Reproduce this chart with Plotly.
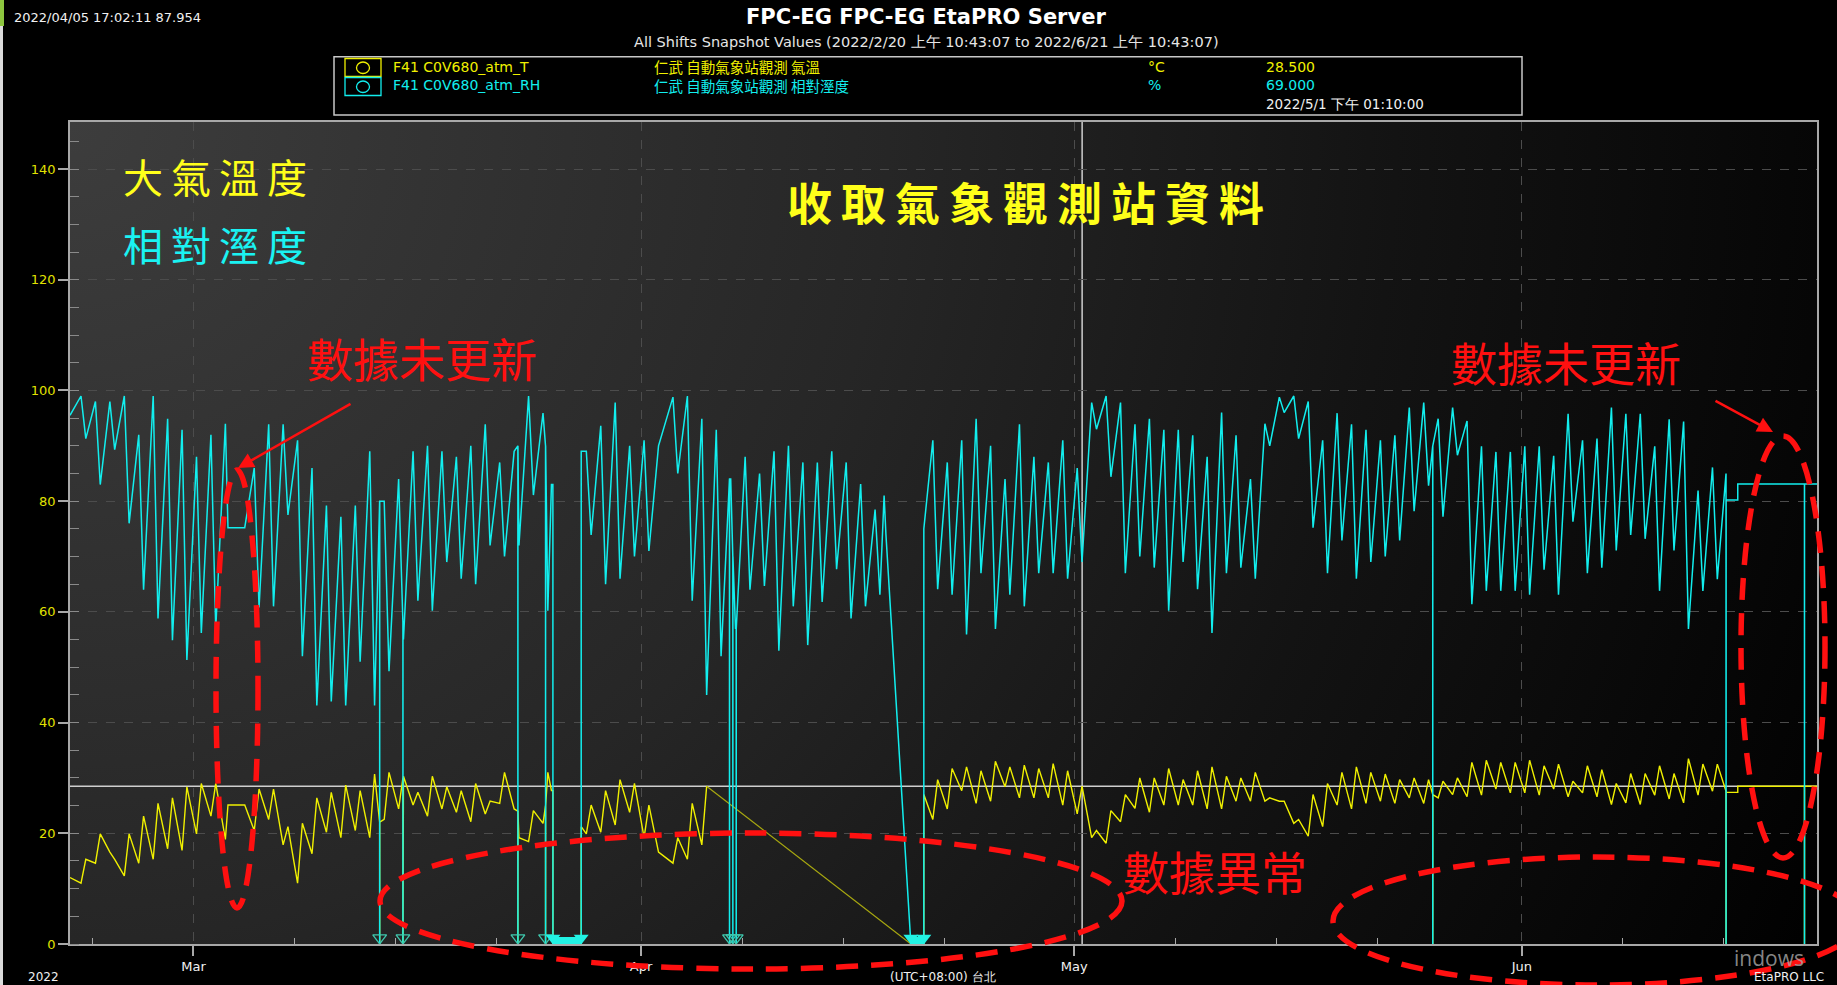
import base64
import pandas as pd
import plotly.graph_objects as go

# ---------------------------------------------------------------- data
START = "2022-02-20 10:43:07"
END = "2022-06-21 10:43:07"
FIRST_DAY = "2022-02-21"          # first full day of daily samples
HOUR_NIGHT, HOUR_NOON = 5, 13      # sample hours: RH max / T min, RH min / T max

# relative humidity (%): early-morning high, early-afternoon low, one pair per day
RH_MAX = [99, 98, 98, 99, 92, 99, 94.9, 92.9, 88, 92,
          94, 75.2, 86, 93.9, 93.9, 91, 86, 79.2, 77.2, 79.2,
          89, 80, 84, 89, 90, 89, 88, 90, 93.9, 87,
          89, 99, 95.9, None, None, 89, 93.6, 97.8, 90, 91,
          90, 98.8, 99, 94.9, 92.9, 84, 88, 85, 89, 90,
          87, 87, 89, 87, 83.1, 78.5, None, None, None, 91,
          87, 91, 94.9, 90, 84, 93.9, 88, 87, 91, 86,
          97.8, 99, 97.8, 93.9, 94.9, 92.9, 92.9, 91.9, 88, 96,
          91.9, 84, 94, 98.8, 99, 98, 91, 95.9, 93.9, 92.9,
          91, 91.9, 96.9, 97.8, 94.9, 96.9, 94.5, 89.9, 88.9, 88.9,
          89.9, 89.9, 88.2, 95.8, 91, 91.3, 96.9, 95.8, 95.8, 89.9,
          94.8, 94.4, 81.9, 86.1]
RH_MIN = [91.3, 83, 89.3, 76, 64, 58.8, 54.9, 51.3, 56.2, 56.9,
          75.2, 54.9, 60.8, 61, 77.5, 52, 43.1, 43.8, 43.1, 51,
          43.1, 49.3, 55, 62, 60.2, 69, 66, 65, 72, 70,
          72, 81.1, 60.2, None, None, 73.9, 65, 66, 70, 71,
          93, 85, 62, 45, 52, 56.9, 64, 64.7, 53, 61,
          54, 61.8, 67.7, 58.8, 61, 63.1, None, None, None, 64.1,
          63.1, 55.9, 67, 56.9, 63.1, 61, 67, 67, 66, 69,
          93, 84.4, 67, 70, 68, 60.2, 69, 64.1, 56.2, 67,
          68, 66, 90, 96, 91.3, 75.2, 67, 72.9, 66, 69,
          70, 72.9, 78.2, 82.8, 77.2, 88.3, 61.4, 63.8, 63.8, 63.8,
          63.1, 67.6, 63.1, 76.3, 67, 68, 71.1, 73.9, 73.2, 63.8,
          71.1, 56.9, 63.8, 65.9]

# air temperature (°C): early-morning low, early-afternoon high
T_MIN = [11, 14.6, 16.6, 12.3, 14.6, 15.3, 17.2, 16.9, 19.9, 23.1,
         18.9, 25.1, 20.5, 22.5, 17.9, 11, 16.3, 20.2, 19.2, 20.5,
         19.2, 22.5, 24.4, 25.1, 23.1, 24.4, 23.8, 22.1, 23.5, 25.4,
         24.4, 18.5, 21.8, None, None, 19.9, 20.2, 21.5, 23.8, 19.2,
         16.6, 14.6, 15.3, 17.9, None, None, None, None, None, None,
         None, None, None, None, None, None, None, None, None, 22.5,
         24.4, 27.7, 25.4, 25.8, 28.4, 26.4, 26.4, 26.4, 25.1, 23.5,
         19.2, 18.2, 22.1, 24.5, 23.8, 25.1, 25.1, 25.1, 24.4, 24.4,
         25.8, 25.8, 25.8, 25.8, 21.8, 19.5, 21.2, 25.1, 24.4, 25.4,
         25.8, 25.4, 26.4, 25.4, 26.4, 27, 26.6, 26.9, 28, 27.3,
         27.3, 26.9, 28, 26.6, 27.3, 26.6, 25.2, 25.5, 25.2, 26.9,
         26.2, 25.5, 26.9, 27.6]
T_MAX = [15.3, 19.9, 15.3, 19.9, 23.1, 25.4, 26.4, 28.4, 29, 29,
         25.1, 29.4, 28, 28, 21.2, 21.8, 26.4, 27.4, 28.7, 27.7,
         30.7, 31, 30.3, 27.4, 30.3, 28.4, 27.7, 29, 25.8, 31,
         19.2, 24.1, 31, None, None, 25.1, 27.7, 29.7, 29, 25.1,
         15.9, 19.2, 25.4, 28.5, None, None, None, None, None, None,
         None, None, None, None, None, None, None, None, None, 29.7,
         31.7, 32, 31.3, 33, 32, 32.3, 31.7, 32.6, 31.3, 28.5,
         20.5, 24.1, 27, 30, 30, 31.7, 29.7, 31.3, 32, 30.3,
         30, 31, 26.4, 25.8, 22.5, 27, 29, 31, 32, 31,
         30.7, 29.7, 30, 29.7, 29.4, 30, 32.8, 33.2, 32.8, 32.8,
         33.2, 32.2, 32.5, 29.4, 32.2, 31.5, 29, 30.8, 30.8, 32.2,
         30.8, 33.5, 32.5, 32.5]

RH_FIRST, T_FIRST = 95.5, 12.0

# value frozen (not updated) on Mar 3-4
FROZEN = ("2022-03-03 09:20", "2022-03-04 13:10")
FROZEN_RH, FROZEN_T = 75.2, 25.1

# isolated bad samples that read 0: time, RH level around it, T level around it
SPIKES = [
    ("2022-03-13 21:30", 80, 22),
    ("2022-03-15 12:10", 58, 30),
    ("2022-03-23 11:15", 90, 24),
    ("2022-03-25 09:15", 90, 25),
    ("2022-04-07 03:00", 84, None),
    ("2022-04-07 08:35", 70, None),
    ("2022-04-07 14:10", 57, None),
    ("2022-05-25 20:00", 90, 27),
    ("2022-06-20 13:55", 83.1, 28.5),
]
FLAGGED = ["2022-03-13 21:30", "2022-03-15 12:10", "2022-03-23 11:15",
           "2022-03-25 09:15", "2022-04-07 03:00", "2022-04-07 08:35",
           "2022-04-07 14:10"]

# runs of zero readings
ZERO_RUNS = [("2022-03-25 21:30", "2022-03-27 20:30"),
             ("2022-04-19 16:30", "2022-04-20 14:00")]

# hand-read samples around the outages
RH_EXTRA = [("2022-03-25 13:00", 60.2), ("2022-03-25 19:00", 83), ("2022-03-25 21:25", 83),
            ("2022-03-27 20:31", 89),
            ("2022-04-17 20:00", 81), ("2022-04-17 23:00", 74),
            ("2022-04-20 14:01", 75)]
T_EXTRA = [("2022-03-25 13:00", 31), ("2022-03-25 19:00", 27.7), ("2022-03-25 21:25", 27.7),
           ("2022-03-27 20:31", 21.2),
           ("2022-04-20 14:01", 27)]

# remote station stopped updating on Jun 15
RH_TAIL = [("2022-06-15 03:30", 85), ("2022-06-15 03:35", 0), ("2022-06-15 03:40", 80.2),
           ("2022-06-15 23:00", 80.2), ("2022-06-15 23:01", 83.1), (END, 83.1)]
T_TAIL = [("2022-06-15 03:30", 27.6), ("2022-06-15 03:35", 0), ("2022-06-15 03:40", 27.4),
          ("2022-06-15 23:00", 27.4), ("2022-06-15 23:01", 28.5), (END, 28.5)]

RH_DROP = [("2022-03-03 09:00", "2022-03-04 13:30"),
           ("2022-03-25 06:00", "2022-03-27 21:00"),
           ("2022-04-17 19:00", "2022-04-20 14:30")]
T_DROP = [("2022-03-03 09:00", "2022-03-04 13:30"),
          ("2022-03-25 06:00", "2022-03-27 21:00"),
          ("2022-04-05 15:00", "2022-04-20 14:30")]
T_SILENT = ("2022-04-05 14:00", "2022-04-19 16:30")   # no temperature samples

CURSOR_TIME = "2022-05-01 13:10:00"
CURSOR_T, CURSOR_RH = 28.5, 69.0

X_MINOR = ["2022-02-22", "2022-03-08", "2022-03-15", "2022-03-22",
           "2022-04-08", "2022-04-15", "2022-04-22", "2022-05-08",
           "2022-05-15", "2022-05-22", "2022-06-08", "2022-06-15"]


# ---------------------------------------------------------------- series
def ts(s):
    return pd.Timestamp(s)


def build(night, noon, first, frozen_val, extra, tail, drops, spike_idx):
    days = pd.date_range(FIRST_DAY, periods=len(night), freq="D")
    pts = [(ts(START), first)]
    for d, a, b in zip(days, night, noon):
        if a is not None:
            pts.append((d + pd.Timedelta(hours=HOUR_NIGHT), a))
        if b is not None:
            pts.append((d + pd.Timedelta(hours=HOUR_NOON), b))
    pts = [p for p in pts if not any(ts(a) <= p[0] <= ts(b) for a, b in drops)]
    pts += [(ts(FROZEN[0]), frozen_val), (ts(FROZEN[1]), frozen_val)]
    for t0, t1 in ZERO_RUNS:
        pts += [(ts(t0), 0), (ts(t1), 0)]
    pts += [(ts(t), v) for t, v in extra + tail]
    for sp in SPIKES:
        lvl = sp[spike_idx]
        if lvl is None:
            continue
        t = ts(sp[0])
        pts += [(t - pd.Timedelta(minutes=4), lvl), (t, 0), (t + pd.Timedelta(minutes=4), lvl)]
    pts.sort(key=lambda p: p[0])
    return pts


rh = build(RH_MAX, RH_MIN, RH_FIRST, FROZEN_RH, RH_EXTRA, RH_TAIL, RH_DROP, 1)
tt = build(T_MIN, T_MAX, T_FIRST, FROZEN_T, T_EXTRA, T_TAIL, T_DROP, 2)

# split temperature at the silent period; the gap is bridged by a thin connector
g0, g1 = ts(T_SILENT[0]), ts(T_SILENT[1])
t_x, t_y = [], []
for i, (t, v) in enumerate(tt):
    t_x.append(t)
    t_y.append(v)
    if t <= g0 and i + 1 < len(tt) and tt[i + 1][0] >= g1:
        t_x.append(t + pd.Timedelta(hours=1))
        t_y.append(None)
        bridge = [tt[i], tt[i + 1]]

# ---------------------------------------------------------------- layout geometry
W, H = 1837, 985
ML, MR, MT, MB = 70, 20, 122, 41
PW, PH = W - ML - MR, H - MT - MB


def fx(px):
    return (px - ML) / PW


def fy(py):
    return (H - MB - py) / PH


YEL = "#f0f000"
CYA = "#12eeee"
RED = "#ff1010"
GRID = "#4c4c4c"
AXIS = "#a8a8a8"
LAT = "DejaVu Sans"
CJK = "Noto Sans CJK TC"

fig = go.Figure()

fig.add_trace(go.Scatter(x=[p[0] for p in bridge], y=[p[1] for p in bridge], mode="lines",
                         line=dict(color="#a8a810", width=1.2), hoverinfo="skip"))
fig.add_trace(go.Scatter(x=t_x, y=t_y, mode="lines", connectgaps=False,
                         line=dict(color=YEL, width=1.4), name="F41 C0V680_atm_T"))
fig.add_trace(go.Scatter(x=[p[0] for p in rh], y=[p[1] for p in rh], mode="lines",
                         line=dict(color=CYA, width=1.5), name="F41 C0V680_atm_RH"))

# quality flags at the bottom of the scale
MARK_Y = 1.1
fig.add_trace(go.Scatter(x=[ts(t) for t in FLAGGED], y=[MARK_Y] * len(FLAGGED), mode="markers",
                         marker=dict(symbol="triangle-down-open", size=12, color="#3fc7ad",
                                     line=dict(width=1.3, color="#3fc7ad")),
                         hoverinfo="skip", cliponaxis=False))
run_ends = [ts(t) for run in ZERO_RUNS for t in run]
fig.add_trace(go.Scatter(x=run_ends, y=[MARK_Y] * len(run_ends), mode="markers",
                         marker=dict(symbol="triangle-down", size=13, color="#22f2e4"),
                         hoverinfo="skip", cliponaxis=False))

shapes = []
for t0, t1 in ZERO_RUNS:
    shapes.append(dict(type="rect", xref="x", yref="paper", x0=t0, x1=t1, y0=0, y1=7 / PH,
                       fillcolor="#22f2e4", line=dict(width=0), layer="above"))

# cursor lines
shapes.append(dict(type="line", xref="paper", yref="y", x0=0, x1=1, y0=CURSOR_T, y1=CURSOR_T,
                   line=dict(color="#cfcfcf", width=1.5), layer="between"))
shapes.append(dict(type="line", xref="x", yref="paper", x0=CURSOR_TIME, x1=CURSOR_TIME, y0=0, y1=1,
                   line=dict(color="#cfcfcf", width=1.5), layer="between"))

# legend frame and swatches
shapes.append(dict(type="rect", xref="paper", yref="paper", x0=fx(334), x1=fx(1522),
                   y0=fy(115), y1=fy(56.7), line=dict(color="#c8c8c8", width=1.5)))
for top, col in ((58.5, YEL), (77.5, CYA)):
    shapes.append(dict(type="rect", xref="paper", yref="paper", x0=fx(345), x1=fx(381),
                       y0=fy(top + 18), y1=fy(top), line=dict(color=col, width=1.3)))
    shapes.append(dict(type="circle", xref="paper", yref="paper", x0=fx(356.5), x1=fx(369.5),
                       y0=fy(top + 15), y1=fy(top + 3.5), line=dict(color=col, width=1.3)))

# red hand-drawn highlights
DASH = "22px,13px"
for cx, cy, rx, ry in ((237, 689, 21, 219), (751, 901, 371, 68),
                       (1596, 921, 263, 64), (1783, 647, 42, 211)):
    shapes.append(dict(type="circle", xref="paper", yref="paper",
                       x0=fx(cx - rx), x1=fx(cx + rx), y0=fy(cy + ry), y1=fy(cy - ry),
                       line=dict(color=RED, width=5.5, dash=DASH), layer="above"))

# left margin strip of the screen capture
shapes.append(dict(type="rect", xref="paper", yref="paper", x0=fx(0), x1=fx(3),
                   y0=fy(H), y1=fy(0), fillcolor="#dcdcdc", line=dict(width=0)))
shapes.append(dict(type="rect", xref="paper", yref="paper", x0=fx(0), x1=fx(4),
                   y0=fy(26), y1=fy(0), fillcolor="#8dc63f", line=dict(width=0)))

ann = []


def text(s, px, py, size, color, family=LAT, xanchor="left", yanchor="middle", weight="normal"):
    ann.append(dict(text=s, x=fx(px), y=fy(py), xref="paper", yref="paper", showarrow=False,
                    xanchor=xanchor, yanchor=yanchor, align="left",
                    font=dict(family=family, size=size, color=color, weight=weight)))


def two_rows(a, b, ca, cb):
    return f"<span style='color:{ca}'>{a}</span><br><span style='color:{cb}'>{b}</span>"


text("2022/04/05 17:02:11 87.954", 12, 17, 13, "#f0f0f0")
text("FPC-EG FPC-EG EtaPRO Server", 926, 17.5, 21, "#ffffff", xanchor="center", weight="bold")
text("All Shifts Snapshot Values (2022/2/20 上午 10:43:07 to 2022/6/21 上午 10:43:07)",
     926, 42, 14.5, "#e6e6e6", xanchor="center")

# legend rows (each column is one two-line block)
text(two_rows("F41 C0V680_atm_T", "F41 C0V680_atm_RH", YEL, CYA), 391, 76.5, 14, YEL)
text(two_rows("仁武 自動氣象站觀測 氣溫", "仁武 自動氣象站觀測 相對溼度", YEL, CYA),
     652, 76.5, 14.5, YEL, family=CJK)
text(two_rows("°C", "%", YEL, CYA), 1146, 76.5, 14, YEL)
text(two_rows(f"{CURSOR_T:.3f}", f"{CURSOR_RH:.3f}", YEL, CYA), 1264, 76.5, 14, YEL)
text("2022/5/1 下午 01:10:00", 1264, 104.5, 13.5, "#f0f0f0")

text("大\u2009氣\u2009溫\u2009度", 215, 176, 40, "#ffff1a", family=CJK, xanchor="center")
text("相\u2009對\u2009溼\u2009度", 215, 244, 40, "#1af2f2", family=CJK, xanchor="center")
text("收\u2009取\u2009氣\u2009象\u2009觀\u2009測\u2009站\u2009資\u2009料", 1025, 201, 45, "#ffff1a",
     family=CJK, xanchor="center", weight="bold")
text("數據未更新", 422, 357, 46, RED, family=CJK, xanchor="center")
text("數據未更新", 1566, 361, 46, RED, family=CJK, xanchor="center")
text("數據異常", 1215, 870, 46, RED, family=CJK, xanchor="center")

text("2022", 26, 968, 12, "#f0f0f0", yanchor="top")
text("(UTC+08:00) 台北", 943, 968, 12, "#f0f0f0", xanchor="center", yanchor="top")
text("indows", 1732, 958, 21, "rgba(170,170,170,0.8)", family="Open Sans")
text("EtaPRO LLC", 1752, 968, 12, "#f0f0f0", yanchor="top")

for tip, tail in (((238, 468), (352, 403)), ((1773, 432), (1714, 400))):
    ann.append(dict(x=fx(tip[0]), y=fy(tip[1]), xref="paper", yref="paper", text="",
                    showarrow=True, arrowhead=2, arrowsize=1.25, arrowwidth=2.5, arrowcolor=RED,
                    ax=tail[0] - tip[0], ay=tail[1] - tip[1], standoff=0, startstandoff=0))

# dark radial wash behind the traces
svg = ('<svg xmlns="http://www.w3.org/2000/svg" width="%d" height="%d">'
       '<defs><radialGradient id="g" gradientUnits="userSpaceOnUse" cx="0" cy="0" r="1950">'
       '<stop offset="0" stop-color="#3d3d3d"/><stop offset="0.42" stop-color="#262626"/>'
       '<stop offset="0.68" stop-color="#131313"/><stop offset="1" stop-color="#000000"/>'
       '</radialGradient></defs><rect width="100%%" height="100%%" fill="url(#g)"/></svg>') % (PW, PH)
bg = "data:image/svg+xml;base64," + base64.b64encode(svg.encode()).decode()

fig.update_layout(
    width=W, height=H,
    margin=dict(l=ML, r=MR, t=MT, b=MB, pad=0),
    paper_bgcolor="#000000", plot_bgcolor="#000000",
    showlegend=False,
    shapes=shapes, annotations=ann,
    images=[dict(source=bg, xref="paper", yref="paper", x=0, y=1, sizex=1, sizey=1,
                 xanchor="left", yanchor="top", sizing="stretch", layer="below")],
    xaxis=dict(
        range=[START, END], type="date",
        tickmode="linear", tick0="2022-03-01", dtick="M1", tickformat="%b",
        ticks="outside", ticklen=10, tickwidth=1.5, tickcolor=AXIS,
        tickfont=dict(family=LAT, size=13, color="#f2f2f2"),
        showgrid=True, gridcolor=GRID, griddash="dash", gridwidth=1,
        showline=True, linecolor=AXIS, linewidth=1.5, mirror=True,
        minor=dict(tickmode="array", tickvals=X_MINOR, ticks="inside", ticklen=6,
                   tickcolor=AXIS, tickwidth=1.2, showgrid=False),
        zeroline=False,
    ),
    yaxis=dict(
        range=[0, 148.5], tickmode="linear", tick0=0, dtick=20,
        ticks="outside", ticklen=10, tickwidth=1.5, tickcolor=AXIS,
        tickfont=dict(family=LAT, size=13, color="#e2e200"),
        showgrid=True, gridcolor=GRID, griddash="dash", gridwidth=1,
        showline=True, linecolor=AXIS, linewidth=1.5, mirror=True,
        minor=dict(dtick=5, ticks="inside", ticklen=9, tickcolor="#8a8a8a", tickwidth=1.2,
                   showgrid=False),
        zeroline=False,
    ),
)

fig.write_html("out.html")
